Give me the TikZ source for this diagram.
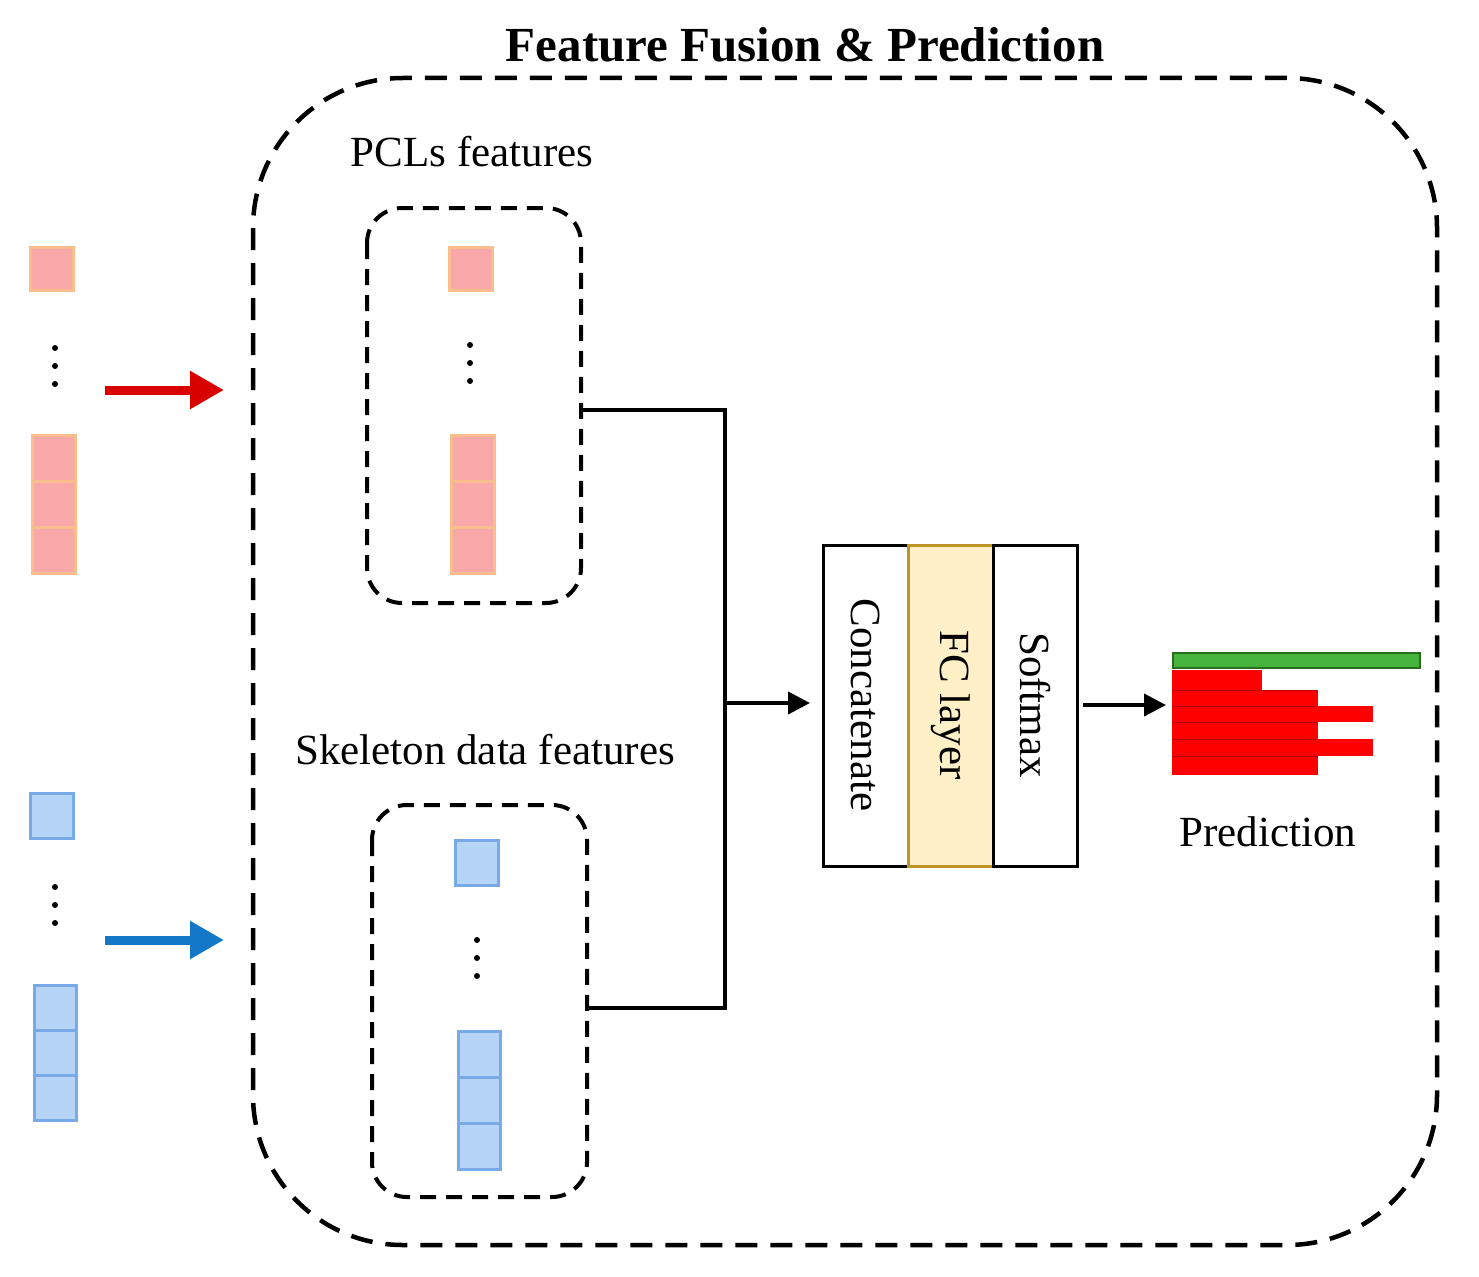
\documentclass[tikz,border=0pt]{standalone}
\usepackage{fontspec}
\setmainfont{Liberation Serif}
\usetikzlibrary{arrows.meta}
\definecolor{pfill}{RGB}{248,168,168}
\definecolor{pdraw}{RGB}{250,190,140}
\definecolor{bfill}{RGB}{182,212,246}
\definecolor{bdraw}{RGB}{120,170,232}
\definecolor{yfill}{RGB}{255,240,200}
\definecolor{ydraw}{RGB}{190,150,40}
\definecolor{gfill}{RGB}{70,180,60}
\definecolor{gdraw}{RGB}{40,110,30}
\definecolor{arblue}{RGB}{20,120,200}
\begin{document}
\begin{tikzpicture}[x=1pt,y=-1pt,
  pink/.style={fill=pfill,draw=pdraw,line width=3pt},
  blue/.style={fill=bfill,draw=bdraw,line width=3pt},
  dbox/.style={draw,line width=4pt,dash pattern=on 16pt off 10pt},
  conn/.style={line width=4pt},
  arr/.style={line width=4pt,-{Triangle[length=22pt,width=22pt]}},
  lab/.style={font=\fontsize{43}{45}\selectfont},
  dot/.style={circle,fill,inner sep=0,minimum size=6pt}]
\useasboundingbox (0,0) rectangle (1479,1276);
\node[font=\fontsize{49}{51}\selectfont\bfseries] (title) at (805,45) {Feature Fusion \& Prediction};
\draw[dbox,line width=4.5pt,dash pattern=on 22pt off 13pt,rounded corners=150pt] (253,78) rectangle (1437,1245);
% PCL box
\draw[dbox,rounded corners=35pt] (367,208) rectangle (581,603);
\coordinate (pclr) at (581,410);
\node[lab] (pcllab) at (472,152) {PCLs features};
\draw[dbox,rounded corners=35pt] (372,805) rectangle (587,1197);
\coordinate (skr) at (587,1008);
\node[lab] (sklab) at (485,750) {Skeleton data features};
% left pink
\draw[pink] (30,247) rectangle (73,290);
\foreach \d in {348,366,384} \node[dot] at (55,\d) {};
\foreach \i in {0,1,2} \draw[pink] (32,435+46*\i) rectangle (75,481+46*\i);
% inner pink
\draw[pink] (449,247) rectangle (492,290);
\foreach \d in {345,363,381} \node[dot] at (470,\d) {};
\foreach \i in {0,1,2} \draw[pink] (451,435+46*\i) rectangle (494,481+46*\i);
% left blue
\draw[blue] (30,793) rectangle (73,838);
\foreach \d in {887,905,923} \node[dot] at (55,\d) {};
\foreach \i in {0,1,2} \draw[blue] (34,985+45*\i) rectangle (76,1030+45*\i);
% inner blue
\draw[blue] (455,840) rectangle (498,885);
\foreach \d in {940,958,976} \node[dot] at (477,\d) {};
\foreach \i in {0,1,2} \draw[blue] (458,1031+46*\i) rectangle (500,1077+46*\i);
% input arrows
\coordinate (ra1) at (105,390); \coordinate (ra2) at (224,390);
\coordinate (ba1) at (105,940); \coordinate (ba2) at (224,940);
\draw[line width=9pt,red!85!black,-{Triangle[length=34pt,width=36pt]}] (ra1) -- (ra2);
\draw[line width=9pt,arblue,-{Triangle[length=34pt,width=36pt]}] (ba1) -- (ba2);
% connectors
\coordinate (j) at (725,703);
\draw[conn] (pclr) -- (725,410) -- (725,1008) -- (skr);
% block
\node[draw,line width=3pt,minimum width=85pt,minimum height=321pt,inner sep=0] (cat) at (865.5,705.5) {};
\node[draw=ydraw,fill=yfill,line width=3pt,minimum width=85pt,minimum height=321pt,inner sep=0] (fc) at (950.5,705.5) {};
\node[draw,line width=3pt,minimum width=84pt,minimum height=321pt,inner sep=0] (sm) at (1035,705.5) {};
\node[lab,rotate=-90] at (865.5,705) {Concatenate};
\node[lab,rotate=-90] at (950.5,705) {FC layer};
\node[lab,rotate=-90] at (1035,705) {Softmax};
\draw[arr] (j) -- (810,703);
% prediction
\coordinate (p0) at (1083,705);
\coordinate (p1) at (1166,705);
\draw[arr] (p0) -- (p1);
\draw[fill=gfill,draw=gdraw,line width=2.5pt] (1173,653) rectangle (1420,668);
\foreach \a/\b/\r in {670/690/1262, 690/706/1318, 706/722/1373, 722/739/1318, 739/756/1373, 756/775/1318}
  \fill[red] (1172,\a) rectangle (\r,\b);
\foreach \yy in {690,706,722,739,756} \draw[red!75!black,line width=1pt] (1172,\yy) -- (1318,\yy);
\node[lab] (predlab) at (1268,832) {Prediction};
\end{tikzpicture}
\end{document}
